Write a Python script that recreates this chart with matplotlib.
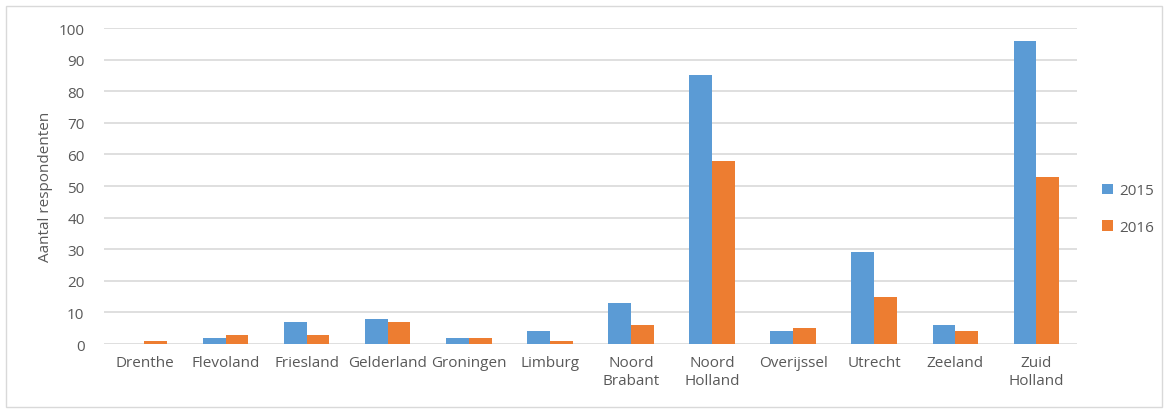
import numpy as np
import matplotlib
matplotlib.use('Agg')
import matplotlib.pyplot as plt
from matplotlib.patches import Rectangle

provinces = ["Drenthe", "Flevoland", "Friesland", "Gelderland", "Groningen", "Limburg",
             "Noord\nBrabant", "Noord\nHolland", "Overijssel", "Utrecht", "Zeeland", "Zuid\nHolland"]
resp_2015 = [0, 2, 7, 8, 2, 4, 13, 85, 4, 29, 6, 96]
resp_2016 = [1, 3, 3, 7, 2, 1, 6, 58, 5, 15, 4, 53]

blue = '#5B9BD5'
orange = '#ED7D31'
text_col = '#595959'
grid_col = '#D9D9D9'

plt.rcParams['font.family'] = ['Open Sans', 'DejaVu Sans']

fig = plt.figure(figsize=(11.68, 4.10), dpi=100)
ax = fig.add_axes([0.089, 0.1585, 0.833, 0.7705])

# thin frame around the whole chart area
fig.patches.append(Rectangle((0.005, 0.005), 0.99, 0.978, transform=fig.transFigure,
                             fill=False, edgecolor='#D9D9D9', linewidth=1))

x = np.arange(len(provinces))
width = 0.28
ax.bar(x - width/2, resp_2015, width, color=blue, label='2015', zorder=3)
ax.bar(x + width/2, resp_2016, width, color=orange, label='2016', zorder=3)

ax.set_xlim(-0.5, len(provinces) - 0.5)
ax.set_ylim(0, 100)
ax.set_yticks(np.arange(0, 101, 10))
ax.set_xticks(x)
ax.set_xticklabels(provinces, linespacing=1.3)
ax.tick_params(axis='both', length=0, colors=text_col, labelsize=11)
ax.tick_params(axis='y', pad=14)
ax.tick_params(axis='x', pad=8)
ax.yaxis.grid(True, color=grid_col, linewidth=1.2, zorder=0)
for s in ax.spines.values():
    s.set_visible(False)

ax.set_ylabel('Aantal respondenten', color=text_col, fontsize=11, labelpad=4)

ax.legend(loc='center left', bbox_to_anchor=(1.012, 0.427), frameon=False,
          fontsize=11, labelcolor=text_col, handlelength=0.7, handleheight=0.7,
          handletextpad=0.4, labelspacing=1.4)

plt.savefig('out.png', dpi=100)
plt.close()
